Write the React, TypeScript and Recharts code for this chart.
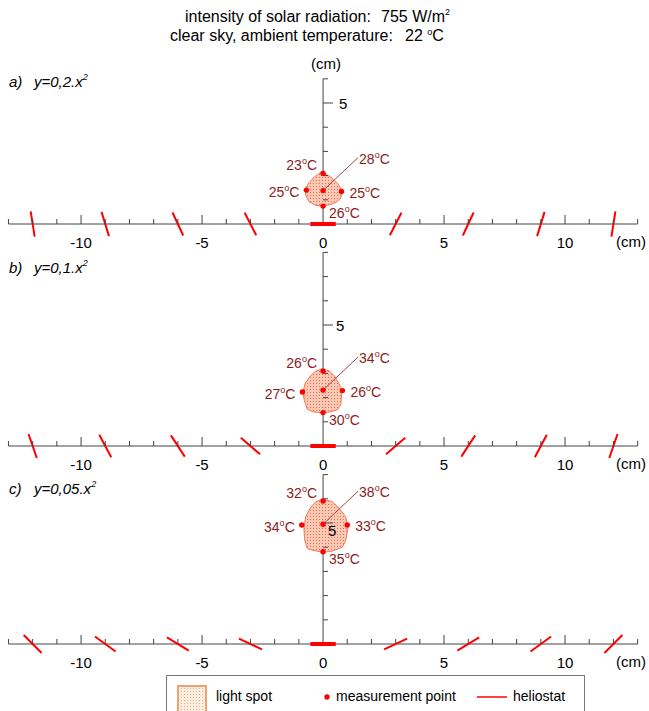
import React from "react";
import { ComposedChart, Scatter, XAxis, YAxis, ReferenceLine } from "recharts";

const FONT = "'Liberation Sans', Arial, Helvetica, sans-serif";
const W = 649;
const H = 711;
const PX_PER_CM = 24.2;
const X_DOMAIN: [number, number] = [-13.35, 13.47];

const RED = "#ff0000";
const AXIS = "#444";
const TEMP = "#8b1c1c";
const LEADER = "#a04848";
const SPOT_EDGE = "#f47a5a";

// axis ticks (cm)
const X_TICK_LABELS = [-10, -5, 0, 5, 10];
const X_MINOR_TICKS = [-13, -12, -11, -9, -8, -7, -6, -4, -3, -2, -1, 1, 2, 3, 4, 6, 7, 8, 9, 11, 12, 13];
const X_MAJOR_TICKS = [-10, -5, 5, 10];
const Y_TICKS_A = [1, 2, 3, 4, 6];
const Y_TICKS_B = [1, 2, 3, 4, 6, 7, 8];
const Y_TICKS_C = [1, 2, 3, 4, 6, 7];
const Y_MAJOR = 5;

// heliostats: position on the axis (cm) and tilt from horizontal (deg)
const HELIO_X = [-12, -9, -6, -3, 0, 3, 6, 9, 12];
const HELIO_TILT_A = [81, 73, 65, 63, 0, 63, 65, 73, 81];
const HELIO_TILT_B = [71, 62, 57, 41, 0, 41, 57, 62, 71];
const HELIO_TILT_C = [45, 36, 31, 25, 0, 25, 31, 36, 45];
const HELIO_LEN = 1.05;

// measurement points: top, centre, left, right, bottom
const POINT_ROLES = ["top", "center", "left", "right", "bottom"];
const POINT_X_A = [0, 0, -0.69, 0.76, 0];
const POINT_Y_A = [2.09, 1.38, 1.4, 1.34, 0.74];
const TEMPS_A = [23, 28, 25, 25, 26];
const POINT_X_B = [0, 0, -0.85, 0.8, 0];
const POINT_Y_B = [3.1, 2.31, 2.23, 2.29, 1.38];
const TEMPS_B = [26, 34, 27, 26, 30];
const POINT_X_C = [0, 0, -0.88, 1.0, 0];
const POINT_Y_C = [5.91, 4.95, 4.92, 4.92, 3.81];
const TEMPS_C = [32, 38, 34, 33, 35];

// light spot outlines (cm)
const SPOT_A = [
  [-0.1, 2.13], [0.08, 2.09], [0.39, 1.89], [0.66, 1.61], [0.79, 1.34], [0.73, 1.06],
  [0.52, 0.88], [0.25, 0.79], [0, 0.74], [-0.3, 0.77], [-0.58, 0.92], [-0.72, 1.2],
  [-0.72, 1.47], [-0.58, 1.71], [-0.34, 1.96],
];
const SPOT_B = [
  [-0.09, 3.17], [0.25, 3.11], [0.5, 2.86], [0.69, 2.52], [0.77, 2.11], [0.73, 1.69],
  [0.59, 1.49], [0.25, 1.4], [-0.03, 1.38], [-0.37, 1.4], [-0.65, 1.51], [-0.78, 1.9],
  [-0.83, 2.24], [-0.74, 2.59], [-0.51, 2.91], [-0.3, 3.1],
];
const SPOT_C = [
  [-0.03, 5.98], [0.39, 5.88], [0.66, 5.61], [0.94, 5.26], [1.03, 4.78], [0.94, 4.3],
  [0.8, 4.0], [0.39, 3.84], [0, 3.79], [-0.37, 3.86], [-0.65, 3.94], [-0.76, 4.3],
  [-0.79, 4.78], [-0.72, 5.26], [-0.51, 5.65], [-0.3, 5.88],
];

const PANELS = [
  { id: "a", formula: "y=0,2.x", axisY: 224, plotH: 180, yTop: 6, yTicks: Y_TICKS_A, tilt: HELIO_TILT_A, spot: SPOT_A, px: POINT_X_A, py: POINT_Y_A, temps: TEMPS_A, fiveDx: 16, fiveDy: 5.5 },
  { id: "b", formula: "y=0,1.x", axisY: 446, plotH: 205, yTop: 8, yTicks: Y_TICKS_B, tilt: HELIO_TILT_B, spot: SPOT_B, px: POINT_X_B, py: POINT_Y_B, temps: TEMPS_B, fiveDx: 13, fiveDy: 5.5 },
  { id: "c", formula: "y=0,05.x", axisY: 644, plotH: 180, yTop: 7, yTicks: Y_TICKS_C, tilt: HELIO_TILT_C, spot: SPOT_C, px: POINT_X_C, py: POINT_Y_C, temps: TEMPS_C, fiveDx: 5, fiveDy: 13 },
];

const PLACE: Record<string, { anchor: "start" | "end"; dx: number; dy: number }> = {
  top: { anchor: "end", dx: -6, dy: -3 },
  center: { anchor: "start", dx: 36, dy: -27 },
  left: { anchor: "end", dx: -7, dy: 7 },
  right: { anchor: "start", dx: 8, dy: 6 },
  bottom: { anchor: "start", dx: 6, dy: 12 },
};

const Empty = () => <g />;

function TempText({ x, y, anchor, t }: { x: number; y: number; anchor: "start" | "end"; t: number }) {
  return (
    <text x={x} y={y} textAnchor={anchor} fill={TEMP} fontSize={14} fontFamily={FONT}>
      {t}
      <tspan fontSize={9} dy={-6}>o</tspan>
      <tspan dy={6}>C</tspan>
    </text>
  );
}

function TempPoint(p: any) {
  const { cx, cy, payload } = p;
  const pl = PLACE[payload.role];
  return (
    <g>
      {payload.role === "center" && (
        <line x1={cx} y1={cy} x2={cx + 35} y2={cy - 33} stroke={LEADER} strokeWidth={1} />
      )}
      <circle cx={cx} cy={cy} r={2.7} fill={RED} />
      <TempText x={cx + pl.dx} y={cy + pl.dy} anchor={pl.anchor} t={payload.t} />
    </g>
  );
}

const xTick = (len: number) => (p: any) => (
  <line x1={p.cx} y1={p.cy} x2={p.cx} y2={p.cy - len} stroke={AXIS} strokeWidth={1} />
);
const yTick = (len: number) => (p: any) => (
  <line x1={p.cx} y1={p.cy} x2={p.cx + len} y2={p.cy} stroke={AXIS} strokeWidth={1} />
);

function Panel({ cfg }: { cfg: (typeof PANELS)[number] }) {
  const yMax = cfg.plotH / PX_PER_CM;
  const spot = cfg.spot.map(([x, y]) => ({ x, y }));
  const pts = cfg.px.map((x, i) => ({ x, y: cfg.py[i], t: cfg.temps[i], role: POINT_ROLES[i] }));
  const fiveShape = (p: any) => (
    <g>
      <line x1={p.cx} y1={p.cy} x2={p.cx + 10} y2={p.cy} stroke={AXIS} strokeWidth={1} />
      <text x={p.cx + cfg.fiveDx} y={p.cy + cfg.fiveDy} fontSize={15} fontFamily={FONT} fill="#000">
        {Y_MAJOR}
      </text>
    </g>
  );

  return (
    <div style={{ position: "absolute", left: 0, top: cfg.axisY - cfg.plotH }}>
      <ComposedChart width={W} height={cfg.plotH + 40} margin={{ top: 0, right: 0, bottom: 0, left: 0 }}>
        <XAxis
          type="number"
          dataKey="x"
          domain={X_DOMAIN}
          ticks={X_TICK_LABELS}
          interval={0}
          axisLine={false}
          tickLine={false}
          tickSize={0}
          tickMargin={13}
          height={40}
          tick={{ fill: "#000", fontSize: 15, fontFamily: FONT }}
        />
        <YAxis type="number" dataKey="y" domain={[0, yMax]} hide />
        <Scatter
          data={spot}
          shape={Empty}
          line={{ fill: "url(#spotFill)", stroke: SPOT_EDGE, strokeWidth: 1 }}
          lineType="joint"
          lineJointType="linearClosed"
          isAnimationActive={false}
        />
        <ReferenceLine segment={[{ x: -13, y: 0 }, { x: 13, y: 0 }]} stroke={AXIS} ifOverflow="visible" />
        <ReferenceLine segment={[{ x: 0, y: 0 }, { x: 0, y: cfg.yTop }]} stroke={AXIS} ifOverflow="visible" />
        <Scatter data={X_MINOR_TICKS.map((x) => ({ x, y: 0 }))} shape={xTick(5)} isAnimationActive={false} />
        <Scatter data={X_MAJOR_TICKS.map((x) => ({ x, y: 0 }))} shape={xTick(9)} isAnimationActive={false} />
        <Scatter data={cfg.yTicks.map((y) => ({ x: 0, y }))} shape={yTick(5)} isAnimationActive={false} />
        <Scatter data={[{ x: 0, y: Y_MAJOR }]} shape={fiveShape} isAnimationActive={false} />
        {HELIO_X.map((hx, i) => {
          const th = (cfg.tilt[i] * Math.PI) / 180;
          const s = hx < 0 ? -1 : 1;
          const dx = (HELIO_LEN / 2) * Math.cos(th) * s;
          const dy = (HELIO_LEN / 2) * Math.sin(th);
          return (
            <ReferenceLine
              key={hx}
              segment={[{ x: hx - dx, y: -dy }, { x: hx + dx, y: dy }]}
              stroke={RED}
              strokeWidth={hx === 0 ? 4 : 2}
              ifOverflow="visible"
            />
          );
        })}
        <Scatter data={pts} shape={TempPoint} isAnimationActive={false} />
      </ComposedChart>
    </div>
  );
}

export default function App() {
  const txt = { fontFamily: FONT, fill: "#000" };
  return (
    <div style={{ position: "absolute", left: 0, top: 0, width: W, height: H, background: "#fff", overflow: "hidden" }}>
      <svg width={W} height={H} style={{ position: "absolute", left: 0, top: 0 }}>
        <defs>
          <pattern id="spotFill" width={3} height={3} patternUnits="userSpaceOnUse">
            <rect width={3} height={3} fill="#fbc8b4" />
            <rect x={1} y={1} width={1} height={1} fill="#ec6e50" />
          </pattern>
          <pattern id="legendFill" width={3} height={3} patternUnits="userSpaceOnUse">
            <rect width={3} height={3} fill="#fdeee2" />
            <rect x={1} y={1} width={1} height={1} fill="#f0a57c" />
          </pattern>
        </defs>

        <text x={185} y={22} fontSize={16} {...txt}>intensity of solar radiation:</text>
        <text x={381} y={22} fontSize={16} {...txt}>
          755 W/m<tspan fontSize={9} dy={-7}>2</tspan>
        </text>
        <text x={170} y={41} fontSize={16} {...txt}>clear sky, ambient temperature:</text>
        <text x={405} y={41} fontSize={16} {...txt}>
          22 <tspan fontSize={9} dy={-6}>o</tspan>
          <tspan dy={6}>C</tspan>
        </text>

        <text x={326} y={69} fontSize={15} textAnchor="middle" {...txt}>(cm)</text>

        {PANELS.map((p, i) => {
          const labelY = [87, 273, 494][i];
          return (
            <g key={p.id}>
              <text x={9} y={labelY} fontSize={15} fontStyle="italic" {...txt}>{p.id})</text>
              <text x={34} y={labelY} fontSize={15} fontStyle="italic" {...txt}>
                {p.formula}
                <tspan fontSize={9} dy={-7}>2</tspan>
              </text>
              <text x={616} y={p.axisY + 23} fontSize={15} {...txt}>(cm)</text>
            </g>
          );
        })}

        <rect x={166.5} y={675.5} width={418} height={50} fill="none" stroke="#777" />
        <rect x={178} y={686} width={28} height={28} fill="url(#legendFill)" stroke="#f3a26e" strokeWidth={2} />
        <text x={216} y={701} fontSize={14} {...txt}>light spot</text>
        <circle cx={327} cy={697} r={2.7} fill={RED} />
        <text x={336} y={701} fontSize={14} {...txt}>measurement point</text>
        <line x1={477} y1={697} x2={507} y2={697} stroke={RED} strokeWidth={1.5} />
        <text x={513} y={701} fontSize={14} {...txt}>heliostat</text>
      </svg>
      {PANELS.map((p) => (
        <Panel key={p.id} cfg={p} />
      ))}
    </div>
  );
}
